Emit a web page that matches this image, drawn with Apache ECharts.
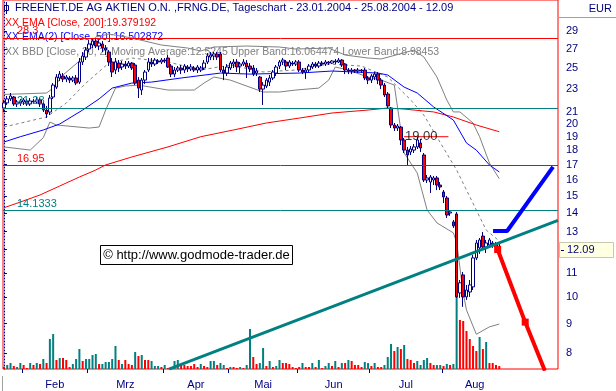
<!DOCTYPE html>
<html><head><meta charset="utf-8">
<script src="https://cdn.jsdelivr.net/npm/echarts@6/dist/echarts.min.js"></script>
<style>html,body{margin:0;padding:0;background:#fff}#c{width:616px;height:391px}</style>
</head><body><div id="c"></div>
<script>
// ---------- DATA ----------
const candleOpen = [21.31,21.75,22.10,22.27,21.66,21.75,21.83,21.92,21.66,21.92, 21.83,22.01,21.66,21.14,20.97,22.27,23.17,24.03,24.22,23.93, 24.03,23.83,24.03,23.64,25.62,26.13,26.98,27.42,27.86,27.31, 27.53,27.09,26.66,25.62,24.81,25.51,25.11,25.41,25.21,25.51, 25.31,23.83,22.90,23.83,24.81,25.62,25.41,25.72,25.62,25.82, 26.03,25.21,24.41,24.81,25.01,24.81,25.11,24.91,25.01,24.81, 24.81,25.01,25.62,26.13,26.24,26.45,26.45,24.81,24.51,25.01, 25.41,25.62,25.21,25.41,25.51,25.21,25.01,24.51,24.12,22.99, 23.27,23.64,24.03,24.51,25.21,25.62,25.62,25.21,25.51,25.41, 25.62,24.81,24.61,24.81,25.11,25.41,25.21,25.51,25.41,25.62, 25.51,25.72,25.62,25.82,25.41,24.81,24.71,24.81,24.71,24.81, 24.81,24.03,23.83,24.12,24.41,23.83,23.36,22.54,21.31,19.91, 19.67,19.75,18.75,18.01,17.87,18.01,18.24,18.53,17.66,15.98, 15.85,15.98,16.11,15.66,15.23,14.87,14.00,13.51,13.95,10.17, 10.93,10.01,10.21,10.42,11.70,12.18,12.77,12.22,12.32,12.42, 12.37,12.27];
const candleClose = [21.75,22.10,22.36,21.66,21.83,21.92,22.01,21.66,21.92,21.83, 22.01,21.66,21.14,20.81,22.18,23.36,24.12,24.41,23.93,24.12, 23.83,24.03,23.55,25.62,26.24,26.87,27.53,27.86,27.31,27.64, 27.09,26.87,25.62,24.61,25.62,25.01,25.41,25.21,25.51,25.01, 23.55,23.08,23.83,24.61,25.62,25.41,25.82,25.62,25.82,25.72, 25.11,24.41,24.81,25.01,24.81,25.21,24.91,25.11,24.81,25.11, 25.01,25.51,26.24,26.34,26.45,26.13,24.81,24.51,25.11,25.51, 25.62,25.11,25.41,25.62,25.11,24.91,24.41,24.71,22.99,23.36, 23.83,24.03,24.61,25.11,25.62,25.82,25.21,25.62,25.41,25.62, 24.81,24.61,24.81,25.21,25.41,25.21,25.51,25.41,25.62,25.51, 25.72,25.62,25.82,25.31,24.81,24.71,24.81,24.71,24.81,24.71, 24.03,23.83,24.22,24.41,23.83,23.36,22.45,21.49,19.91,19.67, 19.83,18.75,18.01,17.66,18.09,18.24,18.75,18.16,15.98,16.11, 16.17,16.11,15.66,15.54,14.93,13.89,14.06,13.30,10.01,10.59, 10.01,10.29,10.50,11.70,12.42,12.57,12.22,12.42,12.57,12.32, 12.22,12.09];
const candleLow = [20.97,21.57,21.92,21.49,21.40,21.49,21.57,21.49,21.49,21.66, 21.66,21.40,20.97,20.48,20.72,22.10,22.99,23.74,23.64,23.64, 23.55,23.64,23.36,23.45,25.31,25.82,26.66,27.09,27.09,26.87, 26.66,26.34,25.21,24.12,24.41,24.61,24.81,24.91,25.01,24.81, 23.36,22.18,22.45,23.45,24.61,25.11,25.21,25.41,25.41,25.51, 25.01,24.12,24.12,24.61,24.41,24.51,24.61,24.71,24.61,24.51, 24.61,24.81,25.41,25.82,25.82,25.82,24.61,23.83,24.22,24.81, 25.01,24.61,24.51,25.21,24.03,24.61,24.22,24.22,22.72,21.57, 23.08,23.27,23.83,24.22,24.91,25.31,24.81,25.01,25.21,25.21, 24.61,24.41,23.93,24.61,24.91,25.01,25.01,25.21,25.21,25.31, 25.41,25.41,25.51,25.11,24.41,24.41,24.41,24.51,24.51,24.51, 23.83,23.45,23.55,23.83,23.45,22.99,22.27,21.31,19.67,19.44, 19.44,18.38,17.80,16.97,17.66,17.80,18.09,17.87,15.85,15.79, 15.17,15.66,15.35,15.35,14.57,13.73,13.84,13.19,9.97,9.97, 9.62,9.89,10.01,10.29,11.60,11.89,12.08,11.93,12.18,12.18, 12.08,11.98];
const candleHigh = [22.01,22.36,22.63,22.36,22.01,22.10,22.18,22.10,22.18,22.10, 22.27,22.18,21.83,21.49,22.45,23.55,24.41,24.71,24.51,24.32, 24.22,24.22,24.32,26.03,26.66,27.20,27.97,28.20,28.20,27.97, 27.86,27.42,26.87,26.03,26.03,25.82,25.72,25.72,25.72,25.62, 25.51,24.12,24.03,24.81,26.03,26.03,26.03,25.92,26.03,26.03, 26.34,25.41,25.11,25.21,25.31,25.41,25.31,25.41,25.21,25.31, 25.21,25.82,26.55,26.66,26.66,26.66,26.66,25.21,25.41,25.72, 25.92,25.92,25.62,25.92,25.82,25.51,25.31,25.01,24.22,23.64, 24.03,24.32,24.81,25.31,25.82,26.03,25.82,25.82,25.72,25.82, 25.82,25.01,25.01,25.41,25.62,25.62,25.72,25.72,25.82,25.72, 25.82,25.92,26.03,25.92,25.51,25.01,25.01,24.91,25.01,24.91, 25.01,24.22,24.41,24.61,24.61,24.03,23.55,22.72,21.40,20.07, 19.99,19.83,18.90,18.24,18.31,18.45,18.98,18.83,17.80,16.30, 16.30,16.24,16.24,15.85,15.35,14.99,14.17,13.62,14.06,10.71, 11.06,10.50,10.71,11.84,12.57,12.67,12.98,12.57,12.67,12.52, 12.47,12.37];
const volume = [2,4,6,3,2,6,4,1,6,4, 6,5,10,6,30,35,9,11,11,9, 2,5,10,20,8,10,10,14,15,5, 5,7,7,10,23,9,5,9,5,4, 17,13,14,9,9,8,3,3,2,4, 1,2,8,9,4,4,3,3,5,2, 5,3,2,8,8,4,6, 4,1,2,2,1,2,1,4,40,12, 5,6,21,3,8,2,3,9,6,6, 5,2,1,2,6,2,2,6,2,9, 1,3,6,3,8,2,6,6,9,8, 4,4,2,7,6,3,6,2,2,4, 12,25,18,22,20,24,10,9,6,8, 4, 9,11,6,4,4,4,3,5,4,5, 115,49,48,38,30,23,18,32,20,27, 6,6,4,3];
const volumeDir = ('rttrttrrtr'+'trtrttrtrr'+'rtttrttttr'+'tttttrtrrr'+'trtrrtttrt'+'rtttrrrrrr'+'trrttrt'+
  'trtrrtrttr'+'rttrtrttrr'+'rrrrtrrtrt'+'rttrtrtrtr'+'rrrttrtrrt'+'ttrtrtrrrt'+'t'+
  'ttrrttrtrt'+'trrrrrrtrt'+'rrrr').split('');

const ema200 = [[0,14.3],[5,14.63],[11,15.05],[17,15.6],[23,16.17],[28,16.63],[31,16.97],[39,17.52],[50,18.24],[60,19.0],[70,19.52],[80,20.07],[90,20.47],[100,20.89],[111,21.14],[117,21.31],[122,21.22],[131,20.98],[137,20.56],[144,19.91],[151,19.38]];
const ema50 = [[0,18.6],[5,19.0],[12,19.52],[17,19.99],[24,21.14],[29,22.1],[33,23.08],[39,23.55],[45,23.64],[54,24.03],[66,24.51],[75,24.41],[90,24.51],[100,24.71],[114,24.51],[117,24.32],[122,23.17],[126,22.63],[131,21.4],[137,20.31],[141,18.53],[144,18.01],[148,16.97],[151,16.5]];
const bbUpper = [[0,22.5],[13,22.63],[15,23.08],[18,24.32],[23,25.72],[26,27.42],[28,28.32],[32,28.65],[39,28.2],[48,27.42],[56,27.09],[60,26.77],[64,27.2],[74,27.31],[84,27.2],[89,26.98],[99,27.09],[104,26.34],[111,26.03],[115,25.93],[125,26.87],[128,26.14],[132,24.12],[135,22.01],[137,20.98],[139,20.98],[143,20.07],[145,19.0],[148,17.1],[151,16.06]];
const bbLower = [[0,18.24],[8,18.01],[12,18.93],[14,20.15],[16,19.91],[26,19.67],[29,19.75],[31,21.14],[34,23.08],[37,23.27],[41,23.36],[50,22.9],[58,22.9],[61,23.55],[64,24.12],[69,23.83],[79,22.72],[84,22.72],[89,22.9],[96,23.08],[99,23.83],[101,25.11],[105,24.81],[111,24.12],[115,23.83],[119,23.36],[122,17.8],[126,16.43],[129,14.17],[132,13.46],[137,12.93],[138,12.47],[140,10.17],[141,9.5],[144,8.62],[148,8.88],[151,8.98]];
const bbMid = [[0,19.75],[13,20.56],[19,21.74],[25,23.55],[32,25.52],[39,26.03],[50,25.62],[60,24.81],[69,25.31],[79,24.62],[89,24.81],[99,25.41],[109,25.21],[117,24.12],[124,22.01],[128,20.72],[138,16.63],[147,13.08],[151,12.52]];

const levels = [28.3, 21.28, 16.95, 14.1333];
const levelLabels = ['28.3', '21.28', '16.95', '14.1333'];
const levelKinds = ['red', 'teal', 'red', 'teal'];
const trendTeal = [[50.3, 7.5], [168.9, 13.6]];
const projBlue = [[149.1, 13.03], [153.4, 13.03], [167.4, 16.84]];
const projRed = [[150.5, 12.1], [158.9, 9.05], [164.9, 7.45]];
const projRedMarks = [true, true, false];
const level19 = [[122, 19.0], [135.5, 19.0]];
const level19Label = '19.00';
const level19LabelAt = 127.2;

const yTicks = [29,27,25,23,21,20,19,18,17,16,15,14,13,11,10,9,8];
const lastPrice = 12.09;
const monthStartIdx = [6, 26, 49, 69, 90, 112, 134];
const monthNames = ['Feb','Mrz','Apr','Mai','Jun','Jul','Aug'];

const titleText = 'FREENET.DE AG AKTIEN O.N. ,FRNG.DE, Tageschart - 23.01.2004 - 25.08.2004 - 12.09';
const legendEma200 = 'XX EMA [Close, 200]:19.379192';
const legendEma50 = 'XX EMA(2) [Close, 50]:16.502872';
const legendBB = 'XX BBD [Close, 20, 2] Moving Average:12.5245 Upper Band:16.064474 Lower Band:8.98453';
const copyrightText = '\u00A9 http://www.godmode-trader.de';

// ---------- CHART ----------
const L = Math.log;
const FONT = '"Liberation Sans", Arial, sans-serif';
const NAVY = '#000080', TEAL = '#008080', RED = '#ff0000', BLUE = '#0000ff', GRAY = '#808080';
const priceMin = 7.502, priceMax = 32.83;
const toLn = arr => arr.map(p => [p[0], L(p[1])]);

const candles = candleOpen.map((o, i) => [i, L(o), L(candleClose[i]), L(candleLow[i]), L(candleHigh[i])]);
const vols = volume.map((v, i) => ({ value: [i, v], itemStyle: { color: volumeDir[i] === 't' ? TEAL : RED } }));
const tickPos = monthStartIdx.map(i => i - 0.5);
const labelPos = tickPos.map((t, k) => k < tickPos.length - 1 ? (t + tickPos[k + 1]) / 2 : t + 10);

const chart = echarts.init(document.getElementById('c'));
const lineS = (data, color, width, extra) => Object.assign({
  type: 'line', data: toLn(data), symbol: 'none', showSymbol: false, smooth: false,
  lineStyle: { color, width }, silent: true, z: 3
}, extra || {});

chart.setOption({
  animation: false,
  backgroundColor: '#ffffff',
  grid: { left: 3, right: 58, top: 0, bottom: 22, show: true, borderColor: RED, borderWidth: 1, backgroundColor: 'transparent' },
  xAxis: {
    type: 'value', min: -0.29, max: 168.9,
    axisLine: { show: false }, splitLine: { show: false },
    axisTick: { show: true, length: 4, customValues: tickPos, lineStyle: { color: NAVY } },
    axisLabel: { customValues: labelPos, color: NAVY, fontSize: 11, fontFamily: FONT, margin: 10,
      formatter: v => { const k = labelPos.findIndex(p => Math.abs(p - v) < 0.01); return k >= 0 ? monthNames[k] : ''; } }
  },
  yAxis: [{
    type: 'value', position: 'right', min: L(priceMin), max: L(priceMax), offset: 3,
    splitLine: { show: false },
    axisLine: { show: true, lineStyle: { color: NAVY, type: [1, 2], width: 1 } },
    axisTick: { show: true, length: 3, customValues: yTicks.concat([lastPrice]).map(L), lineStyle: { color: NAVY } },
    axisLabel: { customValues: yTicks.map(L), color: NAVY, fontSize: 11, fontFamily: FONT, margin: 5,
      formatter: v => String(Math.round(Math.exp(v))) }
  }, {
    type: 'value', min: 0, max: 369, show: false
  }],
  series: [
    { type: 'bar', yAxisIndex: 1, data: vols, barWidth: 2, silent: true, z: 1 },
    lineS(bbUpper, GRAY, 1, { z: 2 }),
    lineS(bbLower, GRAY, 1, { z: 2 }),
    lineS(bbMid, GRAY, 1, { z: 2, lineStyle: { color: GRAY, width: 1, type: [3, 3] } }),
    lineS(ema200, RED, 1),
    lineS(ema50, BLUE, 1),
    {
      type: 'candlestick', data: candles, encode: { x: 0, y: [1, 2, 3, 4] }, barWidth: 3, z: 4, silent: true,
      itemStyle: { color: '#ffffff', color0: RED, borderColor: NAVY, borderColor0: NAVY, borderWidth: 1 },
      markLine: {
        silent: true, symbol: ['none', 'none'], animation: false,
        data: levels.map((v, k) => {
          const c = levelKinds[k] === 'red' ? RED : TEAL;
          return { yAxis: L(v), lineStyle: { color: c, width: 1, type: 'solid' },
            label: { show: true, formatter: levelLabels[k], position: 'insideStartTop', color: c, fontSize: 11, fontFamily: FONT, distance: [14, 1] } };
        })
      }
    },
    lineS(level19, RED, 1, { z: 5 }),
    lineS(trendTeal, TEAL, 3, { z: 6 }),
    lineS(projBlue, BLUE, 4, { z: 6 }),
    {
      type: 'line', z: 6, silent: true, smooth: false, showSymbol: true,
      data: projRed.map((p, k) => ({ value: [p[0], L(p[1])], symbol: projRedMarks[k] ? 'rect' : 'none', symbolSize: 7 })),
      lineStyle: { color: RED, width: 4 }, itemStyle: { color: RED, borderWidth: 0 }
    },
    {
      type: 'scatter', data: [[level19LabelAt, L(19.0)]], symbolSize: 0, silent: true, z: 7,
      label: { show: true, position: 'inside', formatter: level19Label, color: '#000000', fontSize: 13, fontFamily: FONT }
    }
  ]
});

const py = Math.round(chart.convertToPixel({ yAxisIndex: 0 }, L(lastPrice)));
const TF = '10.5px ' + FONT;
chart.setOption({ graphic: [
  { id: 'ic1', type: 'rect', shape: { x: 4.5, y: 5.5, width: 4, height: 5 }, style: { fill: '#fff', stroke: NAVY, lineWidth: 1 } },
  { id: 'ic2', type: 'line', shape: { x1: 6.5, y1: 2, x2: 6.5, y2: 14 }, style: { stroke: NAVY, lineWidth: 1 } },
  { id: 't1', type: 'text', x: 15, y: 8, style: { text: titleText, fill: NAVY, font: '11px ' + FONT, verticalAlign: 'middle' } },
  { id: 't2', type: 'text', x: 5, y: 23, style: { text: legendEma200, fill: RED, font: TF, verticalAlign: 'middle' } },
  { id: 't3', type: 'text', x: 5, y: 37, style: { text: legendEma50, fill: BLUE, font: TF, verticalAlign: 'middle' } },
  { id: 't4', type: 'text', x: 5, y: 52, style: { text: legendBB, fill: GRAY, font: TF, verticalAlign: 'middle' } },
  { id: 'eur', type: 'text', x: 612, y: 9, style: { text: 'EUR', fill: NAVY, font: '11px ' + FONT, align: 'right', verticalAlign: 'middle' } },
  { id: 'eurl', type: 'line', shape: { x1: 559, y1: 17.5, x2: 616, y2: 17.5 }, style: { stroke: '#a0a0a0', lineWidth: 1 } },
  { id: 'botl', type: 'line', shape: { x1: 2.5, y1: 376, x2: 2.5, y2: 391 }, style: { stroke: '#a0a0a0', lineWidth: 1 } },
  { id: 'cpr', type: 'rect', shape: { x: 100.5, y: 245.5, width: 192, height: 19 }, style: { fill: '#ffffff', stroke: '#000000', lineWidth: 1 }, z: 10 },
  { id: 'cpt', type: 'text', x: 196.5, y: 255, z: 11, style: { text: copyrightText, fill: '#000000', font: '13px ' + FONT, align: 'center', verticalAlign: 'middle' } },
  { id: 'lpr', type: 'rect', shape: { x: 559.5, y: py - 7.5, width: 54, height: 15 }, style: { fill: '#ffffe1', stroke: '#c8c8b0', lineWidth: 1 }, z: 20 },
  { id: 'lpl', type: 'line', shape: { x1: 561, y1: py + 0.5, x2: 564, y2: py + 0.5 }, style: { stroke: NAVY, lineWidth: 1 }, z: 21 },
  { id: 'lpt', type: 'text', x: 567, y: py, z: 21, style: { text: lastPrice.toFixed(2), fill: NAVY, font: '11px ' + FONT, verticalAlign: 'middle' } }
] });
</script></body></html>
